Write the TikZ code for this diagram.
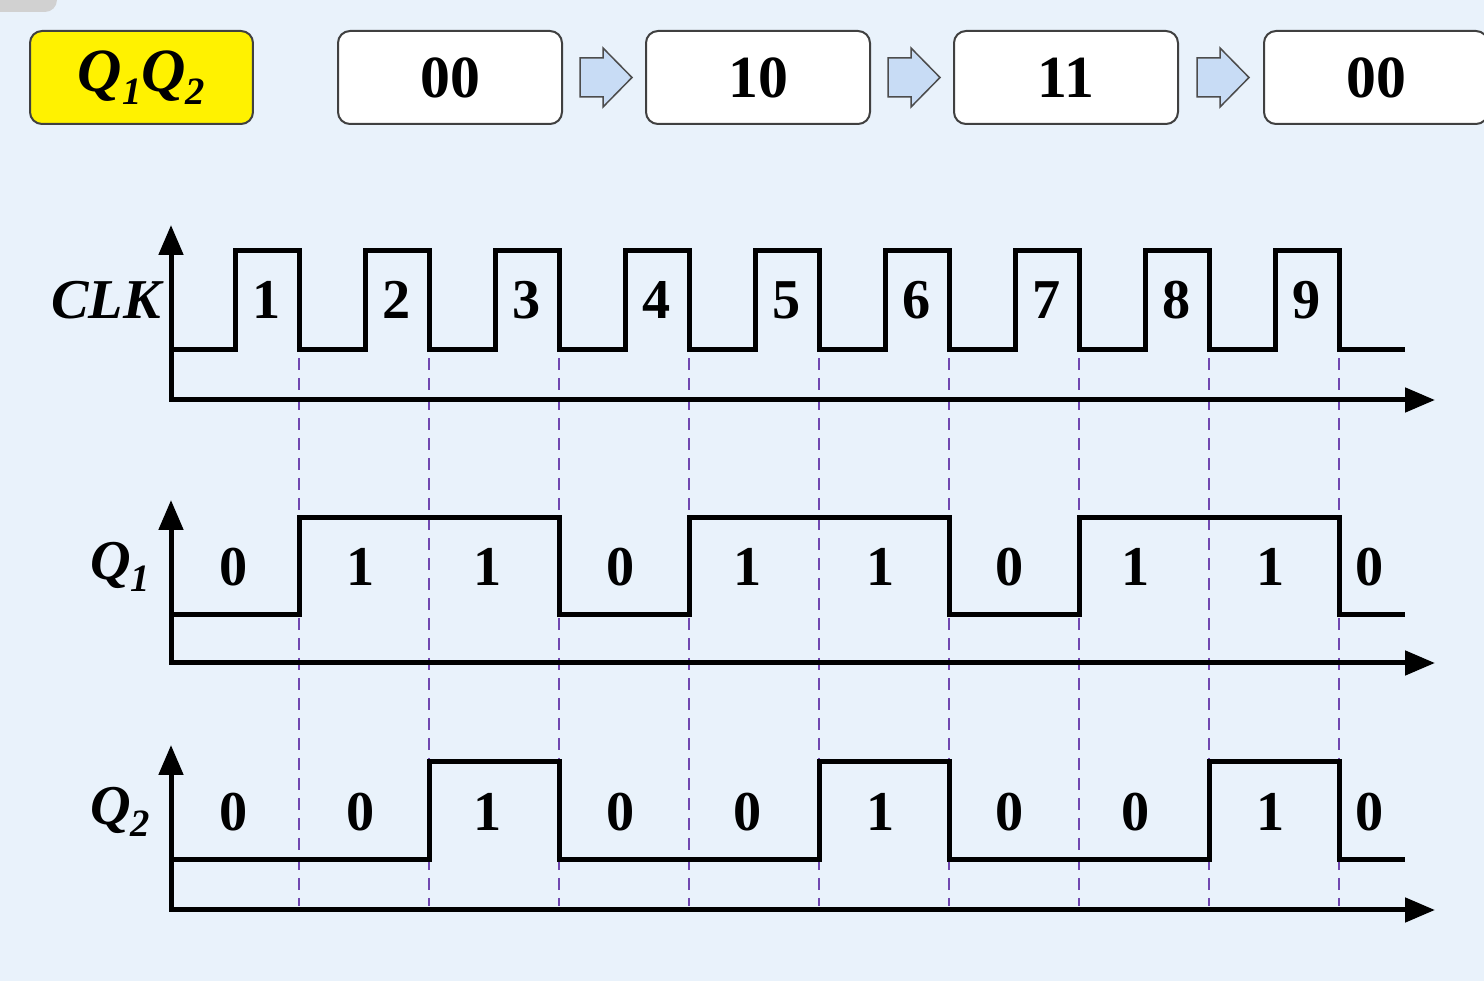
\documentclass[tikz,border=0pt]{standalone}
\usepackage{fontspec}
\setmainfont{Liberation Serif}
\usetikzlibrary{arrows.meta,calc}
\definecolor{bgblue}{RGB}{233,242,251}
\definecolor{tickpurple}{RGB}{112,72,176}
\definecolor{arrowblue}{RGB}{200,220,245}
\newcommand{\Qsub}[2][11]{{\bfseries\itshape Q\raisebox{-0.45ex}{\fontsize{#1}{#1}\selectfont #2}}}

\tikzset{
  state/.style={draw=black!75, line width=0.2mm, fill=white, rounded corners=1.2mm,
    minimum width=22.4mm, minimum height=9.3mm, font=\fontsize{17}{20}\selectfont\bfseries},
  title/.style={state, fill=yellow, minimum width=22.3mm, font=\fontsize{17.5}{20}\selectfont},
  nextarrow/.pic={
    \draw[black!70, line width=0.15mm, fill=arrowblue, line join=miter]
      (-24,-19.5) -- (-1,-19.5) -- (-1,-29.5) -- (28,0) -- (-1,29.5) -- (-1,19.5) -- (-24,19.5) -- cycle;},
  wave/.style={line width=0.5mm, line join=miter},
  axis/.style={line width=0.5mm, line join=miter,
    {Triangle[length=3mm,width=2.4mm]}-{Triangle[length=3mm,width=2.4mm]}},
  tick/.style={tickpurple, line width=0.2mm, dash pattern=on 1.2mm off 0.8mm},
  num/.style={font=\fontsize{16}{19}\selectfont\bfseries},
  sig/.style={font=\fontsize{16}{19}\selectfont\bfseries\itshape}
}

\begin{document}
\begin{tikzpicture}[x=0.1mm,y=-0.1mm]
		%%%%% START %%%%%
		\useasboundingbox (0,0) rectangle (1484,981);
		\fill[bgblue] (0,0) rectangle (1484,981);
		\fill[black!18, rounded corners=1.2mm] (-20,-20) rectangle (57,12);
		
		% states
		\node[title] (qq) at (141.5,77.5) {\Qsub{1}\Qsub{2}};
		\node[state] (s0) at (450,77.5) {00};
		\node[state] (s1) at (758,77.5) {10};
		\node[state] (s2) at (1066,77.5) {11};
		\node[state] (s3) at (1376,77.5) {00};
		\pic (a1) at ($(s0.east)!0.5!(s1.west)$) {nextarrow};
		\pic (a2) at ($(s1.east)!0.5!(s2.west)$) {nextarrow};
		\pic (a3) at ($(s2.east)!0.5!(s3.west)$) {nextarrow};
		
		% dashed lines at the falling edges
		\foreach \k in {0,...,8}
			\draw[tick] ({299+130*\k},358) -- ({299+130*\k},906);
		
		% axes
		\draw[axis] (171,225) -- (171,400) -- (1435,400);
		\draw[axis] (171,500) -- (171,663) -- (1435,663);
		\draw[axis] (171,745) -- (171,910) -- (1435,910);
		
		\node[sig] (clk) at (106,300) {CLK};
		\node[sig] (q1) at (120,567) {\Qsub{1}};
		\node[sig] (q2) at (120,812) {\Qsub{2}};
		
		% CLK
		\draw[wave] (171,350) \foreach \k in {0,...,8} {
			-- ({235+130*\k},350) -- ({235+130*\k},251)
			-- ({299+130*\k},251) -- ({299+130*\k},350) } -- (1405,350);
		\foreach \k in {1,...,9}
			\node[num] (c\k) at ({267+130*(\k-1)},300) {\k};
		
		% Q1
		\draw[wave] (171,615) -- (299,615) -- (299,518) -- (559,518) -- (559,615)
			-- (689,615) -- (689,518) -- (949,518) -- (949,615) -- (1079,615)
			-- (1079,518) -- (1339,518) -- (1339,615) -- (1405,615);
		\foreach \x/\b [count=\i] in {234/0,361/1,488/1,621/0,748/1,881/1,1010/0,1136/1,1271/1,1370/0}
			\node[num] (a\i) at (\x,567) {\b};
		
		% Q2
		\draw[wave] (171,860) -- (429,860) -- (429,762) -- (559,762) -- (559,860)
			-- (819,860) -- (819,762) -- (949,762) -- (949,860) -- (1209,860)
			-- (1209,762) -- (1339,762) -- (1339,860) -- (1405,860);
		\foreach \x/\b [count=\i] in {234/0,361/0,488/1,621/0,748/0,881/1,1010/0,1136/0,1271/1,1370/0}
			\node[num] (b\i) at (\x,812) {\b};
		
		%%%%% END %%%%%
\end{tikzpicture}
\end{document}
